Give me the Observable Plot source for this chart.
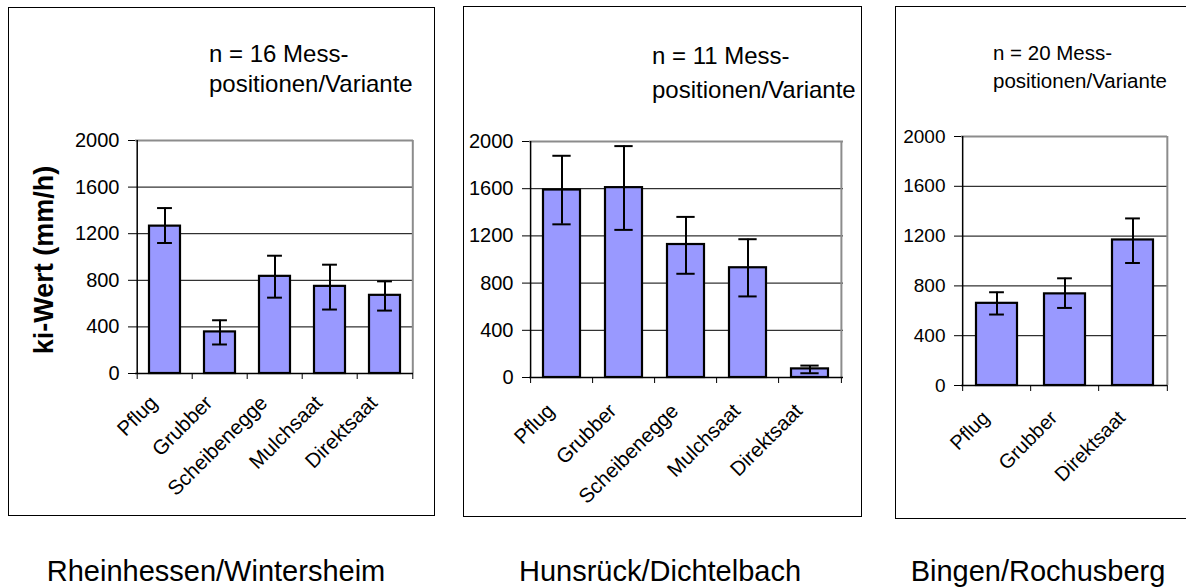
<!DOCTYPE html>
<html><head><meta charset="utf-8">
<script src="https://cdn.jsdelivr.net/npm/d3@7"></script>
<script src="https://cdn.jsdelivr.net/npm/@observablehq/plot@0.6"></script>
<style>
body{margin:0;background:#fff;}
#root{position:relative;width:1186px;height:587px;overflow:hidden;font-family:"Liberation Sans",Arial,sans-serif;}
.panel{position:absolute;}
.panel .box{position:absolute;left:0;top:0;right:0;bottom:0;border:1px solid #000;box-sizing:border-box;}
.panel svg{position:absolute;left:0;top:0;}
#overlay{position:absolute;left:0;top:0;}
</style></head><body><div id="root"></div>
<script>
// ---- data ----
const yTicks = [0, 400, 800, 1200, 1600, 2000];

const cats1 = ["Pflug", "Grubber", "Scheibenegge", "Mulchsaat", "Direktsaat"];
const mean1 = [1265, 357, 834, 748, 671];
const lo1   = [1120, 249, 651, 549, 540];
const hi1   = [1420, 457, 1011, 934, 791];

const cats2 = ["Pflug", "Grubber", "Scheibenegge", "Mulchsaat", "Direktsaat"];
const mean2 = [1589, 1609, 1127, 930, 73];
const lo2   = [1298, 1251, 879, 687, 36];
const hi2   = [1879, 1961, 1361, 1172, 101];

const cats3 = ["Pflug", "Grubber", "Direktsaat"];
const mean3 = [660, 736, 1169];
const lo3   = [570, 623, 984];
const hi3   = [749, 861, 1342];

const notes = [["n = 16 Mess-", "positionen/Variante"], ["n = 11 Mess-", "positionen/Variante"], ["n = 20 Mess-", "positionen/Variante"]];
const sites = ["Rheinhessen/Wintersheim", "Hunsrück/Dichtelbach", "Bingen/Rochusberg"];
const yLabel = "ki-Wert (mm/h)";

const root = document.getElementById("root");

function panel(o) {
  const {cats, mean, lo, hi, left, top, width, height, mL, mR, mT, mB, pad, cap, tickFont, labelFont, labelDx, labelDy} = o;
  const data = cats.map((c, i) => ({cat: c, v: mean[i], lo: lo[i], hi: hi[i]}));
  const step = (width - mL - mR) / cats.length;
  const barW = step * (1 - pad);
  const inset = (barW - cap) / 2;
  const last = cats[cats.length - 1];
  const plot = Plot.plot({
    width, height, marginLeft: mL, marginRight: mR, marginTop: mT, marginBottom: mB,
    style: {fontFamily: "'Liberation Sans', Arial, sans-serif", background: "transparent", color: "#000", overflow: "visible"},
    x: {domain: cats, paddingInner: pad, paddingOuter: pad / 2, axis: null},
    y: {domain: [0, 2000], axis: null, label: null},
    marks: [
      Plot.ruleY(yTicks.filter(t => t > 0 && t < 2000), {stroke: "#000", strokeWidth: 1}),
      Plot.ruleY([2000], {stroke: "#8c8c8c", strokeWidth: 2}),
      Plot.ruleX([last], {x: d => d, dx: step / 2, y1: d => 0, y2: d => 2000, stroke: "#8c8c8c", strokeWidth: 2}),
      Plot.barY(data, {x: "cat", y: "v", fill: "#9999ff", stroke: "#000", strokeWidth: 2.2}),
      Plot.ruleX(data, {x: "cat", y1: "lo", y2: "hi", stroke: "#000", strokeWidth: 2}),
      Plot.tickY(data, {x: "cat", y: "hi", insetLeft: inset, insetRight: inset, stroke: "#000", strokeWidth: 2}),
      Plot.tickY(data, {x: "cat", y: "lo", insetLeft: inset, insetRight: inset, stroke: "#000", strokeWidth: 2}),
      Plot.ruleX([cats[0]], {x: d => d, dx: -step / 2, y1: d => 0, y2: d => 2000, stroke: "#000", strokeWidth: 1.5}),
      Plot.ruleY([0], {stroke: "#000", strokeWidth: 1.5}),
      Plot.ruleX(cats, {x: d => d, dx: -step / 2, y1: d => 0, y2: d => 0, insetBottom: -6, stroke: "#000", strokeWidth: 1}),
      Plot.ruleX([last], {x: d => d, dx: step / 2, y1: d => 0, y2: d => 0, insetBottom: -6, stroke: "#000", strokeWidth: 1}),
      Plot.axisY({ticks: yTicks, tickSize: 7, tickPadding: 9, tickFormat: d => String(d), fontSize: tickFont, label: null, stroke: "#000"}),
      Plot.text(cats, {x: d => d, y: d => 0, text: d => d, rotate: -45, textAnchor: "end", lineAnchor: "middle", dy: labelDy, dx: labelDx, fontSize: labelFont, fill: "#000"})
    ]
  });
  const div = document.createElement("div");
  div.className = "panel";
  div.style.left = left + "px"; div.style.top = top + "px";
  div.style.width = width + "px"; div.style.height = height + "px";
  const box = document.createElement("div"); box.className = "box";
  div.appendChild(box);
  div.appendChild(plot);
  root.appendChild(div);
}

panel({cats: cats1, mean: mean1, lo: lo1, hi: hi1, left: 8, top: 7, width: 427, height: 509, mL: 127, mR: 22, mT: 133, mB: 143, pad: 0.44, cap: 15, tickFont: 20, labelFont: 20.5, labelDx: -11, labelDy: 26});
panel({cats: cats2, mean: mean2, lo: lo2, hi: hi2, left: 463, top: 6, width: 399, height: 511, mL: 66, mR: 19, mT: 135, mB: 140, pad: 0.4, cap: 19, tickFont: 20, labelFont: 20.5, labelDx: -11, labelDy: 30});
panel({cats: cats3, mean: mean3, lo: lo3, hi: hi3, left: 895, top: 6, width: 300, height: 513, mL: 66, mR: 28, mT: 130, mB: 134, pad: 0.4, cap: 15, tickFont: 19, labelFont: 20, labelDx: -11, labelDy: 29});

// ---- text overlay ----
const ns = "http://www.w3.org/2000/svg";
const svg = document.createElementNS(ns, "svg");
svg.setAttribute("id", "overlay");
svg.setAttribute("width", 1186); svg.setAttribute("height", 587);
svg.setAttribute("font-family", "'Liberation Sans', Arial, sans-serif");
function txt(s, x, y, size, attrs = {}) {
  const t = document.createElementNS(ns, "text");
  t.setAttribute("x", x); t.setAttribute("y", y);
  t.setAttribute("font-size", size); t.setAttribute("fill", "#000");
  for (const k in attrs) t.setAttribute(k, attrs[k]);
  t.textContent = s; svg.appendChild(t); return t;
}
const notePos = [[209, 62, 92, 24], [652, 64, 97.5, 24], [993, 60, 88, 20.5]];
notes.forEach((n, i) => {
  const [x, y1, y2, fs] = notePos[i];
  txt(n[0], x, y1, fs); txt(n[1], x, y2, fs);
});
const sitePos = [216, 660, 1038];
sites.forEach((s, i) => txt(s, sitePos[i], 581, 29, {"text-anchor": "middle"}));
txt(yLabel, 0, 0, 27, {"text-anchor": "middle", "font-weight": "bold", transform: "translate(53,260) rotate(-90)"});
root.appendChild(svg);
</script></body></html>
